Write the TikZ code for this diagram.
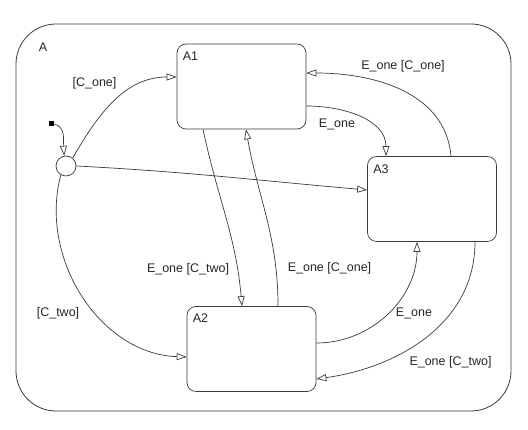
\documentclass[tikz,border=0pt]{standalone}
\usepackage{fontspec}
\setmainfont{Liberation Sans}
\usepackage{xcolor}
\usetikzlibrary{arrows.meta}

\definecolor{linegray}{HTML}{3A3A3A}

\begin{document}
\begin{tikzpicture}[
    x=1pt, y=1pt,
    chart/.style={rectangle, draw=linegray, line width=0.8pt, rounded corners=40pt, minimum width=495pt, minimum height=387pt, inner sep=0pt},
    state/.style={rectangle, draw=linegray, line width=0.7pt, rounded corners=9pt, minimum width=129pt, minimum height=85pt, inner sep=0pt},
    junction/.style={circle, draw=linegray, fill=white, line width=0.7pt, minimum size=20pt, inner sep=0pt},
    dflt/.style={rectangle, fill=black, minimum size=5pt, inner sep=0pt},
    tag/.style={anchor=north west, inner sep=0pt, text=black!85, font=\fontsize{12.5}{14}\selectfont},
    guard/.style={inner sep=0pt, text=black!85, font=\fontsize{12.5}{14}\selectfont},
    arrow/.style={-{Triangle[open, length=10pt, width=7pt]}, draw=linegray, line width=0.7pt}
]
\useasboundingbox (0,0) rectangle (528,430);

% Parent chart
\node[chart, label={[tag, xshift=23pt, yshift=-19pt]north west:A}] (A) at (263.5,212.5) {};

% States
\node[state, label={[tag, xshift=6pt, yshift=-8pt]north west:A1}] (A1) at (241.5,343.5) {};
\node[state, label={[tag, xshift=6pt, yshift=-8pt]north west:A3}] (A3) at (432,231) {};
\node[state, label={[tag, xshift=6pt, yshift=-7pt]north west:A2}] (A2) at (251.5,81) {};

% Default transition and junction
\node[junction] (J) at (66,264) {};
\node[dflt] (init) at (51,306) {};
\draw[arrow] (init.east) to[out=-10, in=95] (J.100);

% Transitions from the junction
\draw[arrow] (J.50) to[out=60, in=180] ([yshift=9.5pt]A1.west);
\draw[arrow] (J.east) to[out=-3, in=175] ([yshift=9pt]A3.west);
\draw[arrow] (J.240) to[out=255, in=178] ([yshift=-8pt]A2.west);

% Transitions between states
\draw[arrow] ([yshift=-19.5pt]A1.east) to[out=0, in=90] ([xshift=-46pt]A3.north);
\draw[arrow] ([xshift=19pt]A3.north) to[out=95, in=0] ([yshift=13.5pt]A1.east);
\draw[arrow] ([xshift=-38.5pt]A1.south) to[out=-78, in=95] ([xshift=-9.5pt]A2.north);
\draw[arrow] ([xshift=26.5pt]A2.north) to[out=90, in=-80] ([xshift=4.5pt]A1.south);
\draw[arrow] ([yshift=6pt]A2.east) to[out=0, in=-90] ([xshift=-15pt]A3.south);
\draw[arrow] ([xshift=43pt]A3.south) to[out=-90, in=8] ([yshift=-30pt]A2.east);

% Labels
\node[guard] (gJA1) at (94.5,347) {[C\_one]};
\node[guard] (gJA2) at (58,116.5) {[C\_two]};
\node[guard] (gA1A3) at (337,305.5) {E\_one};
\node[guard] (gA3A1) at (403,364) {E\_one [C\_one]};
\node[guard] (gA1A2) at (188,161) {E\_one [C\_two]};
\node[guard] (gA2A1) at (329.5,161.5) {E\_one [C\_one]};
\node[guard] (gA2A3) at (414,117) {E\_one};
\node[guard] (gA3A2) at (450.5,67.5) {E\_one [C\_two]};

\end{tikzpicture}
\end{document}
